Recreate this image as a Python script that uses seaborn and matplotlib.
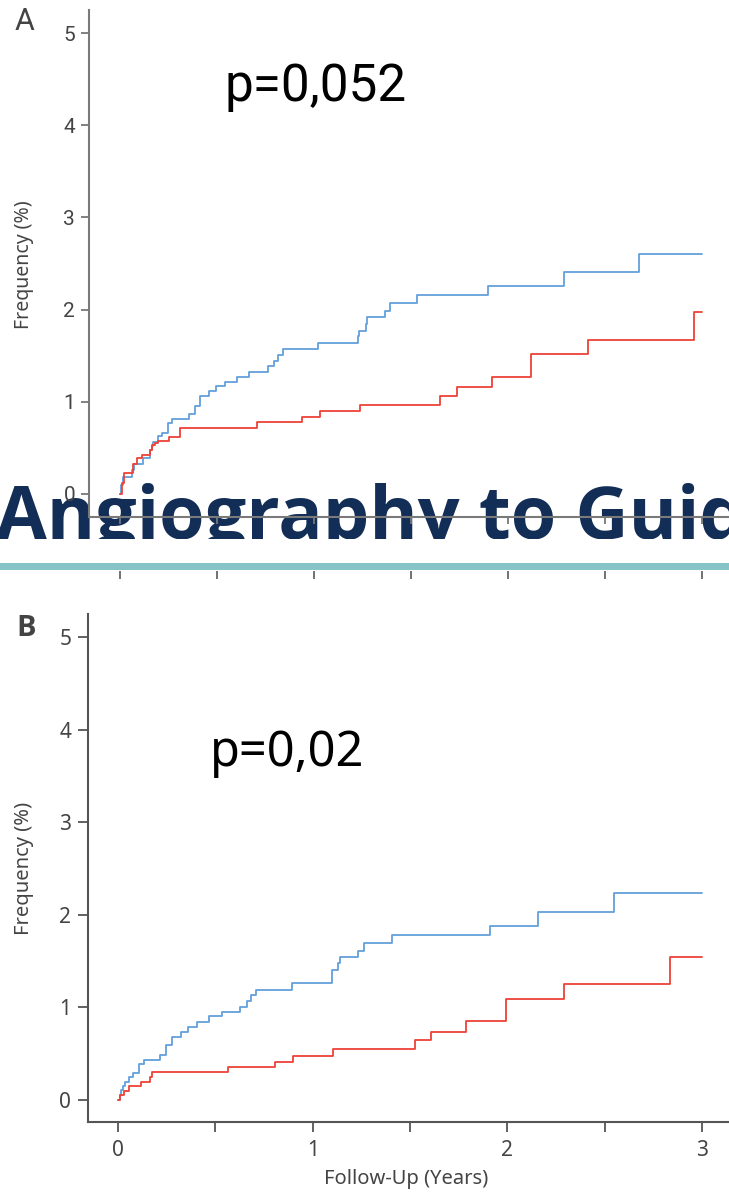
import numpy as np
import pandas as pd
import matplotlib
matplotlib.use("Agg")
import matplotlib.pyplot as plt
import seaborn as sns

# ---- data: cumulative event frequency (%) over follow-up (years) ----
a_blue_t = [0.0, 0.005, 0.014, 0.060, 0.072, 0.120, 0.154, 0.163, 0.171, 0.197, 0.214,
            0.245, 0.270, 0.356, 0.385, 0.411, 0.459, 0.497, 0.540, 0.605, 0.664,
            0.764, 0.796, 0.813, 0.840, 1.020, 1.226, 1.233, 1.270, 1.274, 1.366,
            1.390, 1.533, 1.895, 2.288, 2.674, 3.0]
a_blue_v = [0.0, 0.10, 0.18, 0.26, 0.325, 0.387, 0.477, 0.52, 0.567, 0.629, 0.665,
            0.767, 0.81, 0.868, 0.954, 1.063, 1.12, 1.171, 1.218, 1.272, 1.327,
            1.388, 1.446, 1.508, 1.569, 1.634, 1.714, 1.771, 1.844, 1.916, 1.988,
            2.075, 2.16, 2.26, 2.41, 2.60, 2.60]

a_red_t = [0.0, 0.010, 0.020, 0.068, 0.089, 0.111, 0.154, 0.166, 0.180, 0.197, 0.253,
           0.308, 0.705, 0.940, 1.030, 1.238, 1.652, 1.736, 1.916, 2.121, 2.411,
           2.961, 3.0]
a_red_v = [0.0, 0.12, 0.23, 0.33, 0.387, 0.423, 0.477, 0.53, 0.55, 0.578, 0.62,
           0.712, 0.78, 0.84, 0.90, 0.97, 1.065, 1.16, 1.27, 1.52, 1.67,
           1.97, 1.97]

b_blue_t = [0.0, 0.009, 0.018, 0.024, 0.036, 0.058, 0.079, 0.110, 0.134, 0.216, 0.246,
            0.276, 0.322, 0.361, 0.404, 0.469, 0.536, 0.627, 0.661, 0.682, 0.709,
            0.892, 1.100, 1.131, 1.140, 1.231, 1.265, 1.406, 1.911, 2.157, 2.548, 3.0]
b_blue_v = [0.0, 0.054, 0.108, 0.151, 0.198, 0.245, 0.295, 0.389, 0.432, 0.486, 0.59,
            0.684, 0.731, 0.792, 0.839, 0.907, 0.954, 1.008, 1.072, 1.134, 1.188,
            1.26, 1.404, 1.476, 1.54, 1.61, 1.696, 1.78, 1.88, 2.03, 2.235, 2.235]

b_red_t = [0.0, 0.012, 0.031, 0.058, 0.116, 0.164, 0.173, 0.567, 0.806, 0.901, 1.104,
           1.525, 1.609, 1.790, 1.994, 2.290, 2.838, 3.0]
b_red_v = [0.0, 0.05, 0.097, 0.151, 0.198, 0.245, 0.306, 0.353, 0.414, 0.475, 0.551,
           0.648, 0.734, 0.853, 1.094, 1.256, 1.548, 1.548]

p_text_a = "p=0,052"
p_text_b = "p=0,02"
y_ticks = [0, 1, 2, 3, 4, 5]
x_major = [0, 1, 2, 3]
x_all = [0, 0.5, 1, 1.5, 2, 2.5, 3]
ylabel = "Frequency (%)"
xlabel = "Follow-Up (Years)"
banner_text = "Angiography to Guide"

BLUE = "#62a0dc"
RED = "#ee4238"
NAVY = "#122d56"
TEAL = "#86c4c7"
GREY_TXT = "#444444"

sns.set_style("ticks")
plt.rcParams["font.family"] = ["Noto Sans", "DejaVu Sans"]

W, H = 729, 1193
fig = plt.figure(figsize=(W / 100, H / 100), dpi=100)


def rect(left, top, right, bottom):
    return [left / W, (H - bottom) / H, (right - left) / W, (bottom - top) / H]


def frame(t, v):
    return pd.DataFrame({"t": t, "v": v})


# banner title strip (clipped) sitting behind panel A's x axis
ax_ban = fig.add_axes(rect(0, 468, W, 539), zorder=0)
ax_ban.set_xlim(0, 1)
ax_ban.set_ylim(0, 1)
ax_ban.set_xticks([])
ax_ban.set_yticks([])
for s in ax_ban.spines.values():
    s.set_visible(False)
ax_ban.text(-0.006, 0.005, banner_text, ha="left", va="baseline",
            fontsize=53, fontweight="bold", color=NAVY,
            family=["Open Sans", "DejaVu Sans"], clip_on=True)

# teal divider
ax_div = fig.add_axes(rect(0, 563, W, 570), zorder=0)
ax_div.set_facecolor(TEAL)
ax_div.set_xticks([])
ax_div.set_yticks([])
for s in ax_div.spines.values():
    s.set_visible(False)

# ---- panel A ----
narrow = ["Roboto", "DejaVu Sans"]
axA = fig.add_axes(rect(89, 10, W, 517), zorder=2)
axA.set_facecolor("none")
sns.lineplot(data=frame(a_blue_t, a_blue_v), x="t", y="v", ax=axA, color=BLUE,
             drawstyle="steps-post", estimator=None, sort=False, lw=1.3)
sns.lineplot(data=frame(a_red_t, a_red_v), x="t", y="v", ax=axA, color=RED,
             drawstyle="steps-post", estimator=None, sort=False, lw=1.3)
axA.set_xlim(-0.16, 3.14)
axA.set_ylim(-0.25, 5.25)
axA.set_yticks(y_ticks)
axA.set_yticklabels([str(v) for v in y_ticks], family=narrow, fontsize=15, color=GREY_TXT)
axA.set_xticks(x_all)
axA.set_xticklabels([])
axA.set_xlabel("")
axA.set_ylabel(ylabel, fontsize=14, color=GREY_TXT, ha="center", va="center")
axA.yaxis.set_label_coords((24 - 89) / 640, (517 - 265) / 507)
axA.tick_params(axis="y", length=6, width=1.3, color="#777777", pad=4)
axA.tick_params(axis="x", length=5, width=1.3, color="#777777")
for side in ("top", "right"):
    axA.spines[side].set_visible(False)
for side in ("left", "bottom"):
    axA.spines[side].set_color("#7a7a7a")
    axA.spines[side].set_linewidth(1.5)
axA.text(0.54, 4.26, p_text_a, ha="left", va="baseline", fontsize=37,
         family=narrow, color="black")

# repeated tick marks under the divider
ax_tk = fig.add_axes(rect(89, 570, W, 570.5), zorder=1)
ax_tk.set_facecolor("none")
ax_tk.set_xlim(-0.16, 3.14)
ax_tk.set_yticks([])
ax_tk.set_xticks(x_all)
ax_tk.set_xticklabels([])
ax_tk.tick_params(axis="x", length=6, width=1.3, color="#666666")
for s in ax_tk.spines.values():
    s.set_visible(False)

# ---- panel B ----
axB = fig.add_axes(rect(88, 614, W, 1122), zorder=2)
axB.set_facecolor("none")
sns.lineplot(data=frame(b_blue_t, b_blue_v), x="t", y="v", ax=axB, color=BLUE,
             drawstyle="steps-post", estimator=None, sort=False, lw=1.3)
sns.lineplot(data=frame(b_red_t, b_red_v), x="t", y="v", ax=axB, color=RED,
             drawstyle="steps-post", estimator=None, sort=False, lw=1.3)
axB.set_xlim(-0.154, 3.139)
axB.set_ylim(-0.238, 5.248)
axB.set_yticks(y_ticks)
axB.set_yticklabels([str(v) for v in y_ticks], fontsize=15, color=GREY_TXT)
axB.set_xticks(x_major)
axB.set_xticklabels([str(v) for v in x_major], fontsize=15, color=GREY_TXT)
axB.set_xticks([0.5, 1.5, 2.5], minor=True)
axB.tick_params(axis="both", which="both", length=7, width=1.3, color="#555555")
axB.tick_params(axis="y", pad=5)
axB.tick_params(axis="x", pad=6)
axB.set_ylabel(ylabel, fontsize=14.5, color=GREY_TXT, ha="center", va="center")
axB.yaxis.set_label_coords((24 - 88) / 641, (1122 - 868) / 508)
axB.set_xlabel(xlabel, fontsize=14.5, color=GREY_TXT, ha="center", va="center")
axB.xaxis.set_label_coords((406 - 88) / 641, (1122 - 1179) / 508)
for side in ("top", "right"):
    axB.spines[side].set_visible(False)
for side in ("left", "bottom"):
    axB.spines[side].set_color("#555555")
    axB.spines[side].set_linewidth(1.5)
axB.text(0.473, 3.61, p_text_b, ha="left", va="baseline", fontsize=35, color="black")

# panel letters
fig.text(25 / W, 1 - 21 / H, "A", ha="center", va="center", fontsize=22,
         family=narrow, color=GREY_TXT)
fig.text(26 / W, 1 - 628 / H, "B", ha="center", va="center", fontsize=21,
         fontweight="bold", family=["Open Sans", "DejaVu Sans"], color=GREY_TXT)

fig.savefig("out.png", dpi=100)
